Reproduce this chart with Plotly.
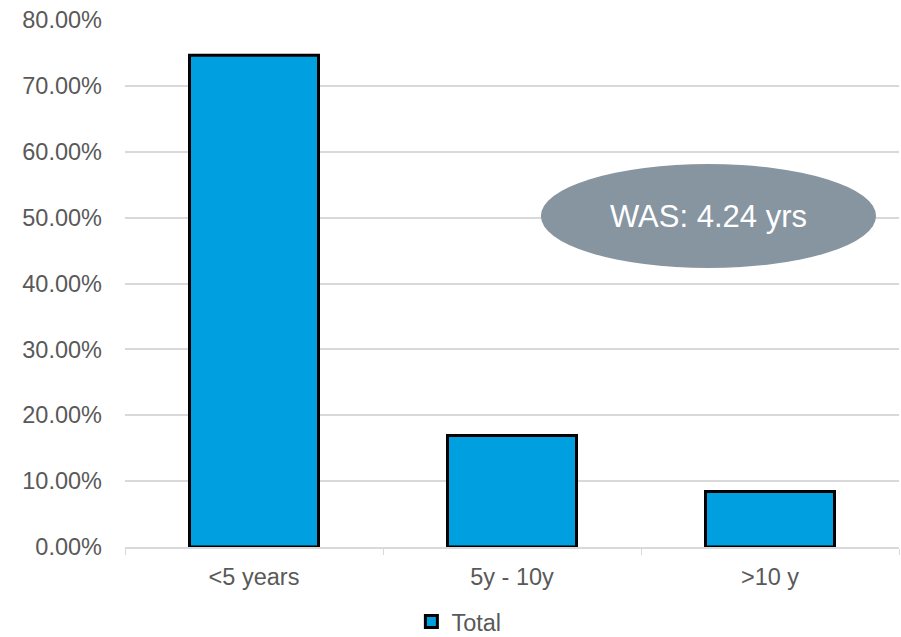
import plotly.graph_objects as go

categories = ["<5 years", "5y - 10y", ">10 y"]
values = [0.7466, 0.1692, 0.0842]
series_name = "Total"
annotation_text = "WAS: 4.24 yrs"

fig = go.Figure()
fig.add_trace(go.Bar(
    x=categories, y=values, name=series_name,
    marker=dict(color="#009FDF", line=dict(color="#000000", width=3)),
    showlegend=True,
))

font_color = "#595959"
fs = 23.5
fig.update_layout(
    width=901, height=637,
    margin=dict(l=125, r=2, t=20, b=90),
    paper_bgcolor="white", plot_bgcolor="white",
    font=dict(family="Liberation Sans, Arial, sans-serif", size=fs, color=font_color),
    bargap=0.5,
    showlegend=True,
    legend=dict(orientation="h", x=0.37, xanchor="left", yref="container", y=0.024,
                yanchor="middle", font=dict(size=fs, color=font_color), itemwidth=30,
                bgcolor="rgba(0,0,0,0)"),
    xaxis=dict(
        range=[-0.5, 2.5], showgrid=False, showline=True, linecolor="#D9D9D9", linewidth=1.5,
        ticks="outside", tickson="boundaries", ticklen=6, tickcolor="#D9D9D9",
        tickfont=dict(size=fs, color=font_color), ticklabelstandoff=8,
        automargin=False,
    ),
    yaxis=dict(
        range=[0, 0.8], dtick=0.1, tickformat=".2%", showgrid=True, gridcolor="#D9D9D9",
        gridwidth=1.5, zeroline=False, showline=False, ticks="",
        tickfont=dict(size=fs, color=font_color), ticklabelstandoff=22,
        automargin=False,
    ),
)

fig.add_shape(type="circle", xref="x", yref="y", x0=1.112, x1=2.411, y0=0.4235, y1=0.5814,
              fillcolor="#8795A1", line=dict(width=0), layer="above")
fig.add_annotation(x=(1.112 + 2.411) / 2, y=(0.4235 + 0.5814) / 2, xref="x", yref="y",
                   text=annotation_text, showarrow=False,
                   font=dict(size=31, color="white", family="Liberation Sans, Arial, sans-serif"))

fig.write_html("out.html")
